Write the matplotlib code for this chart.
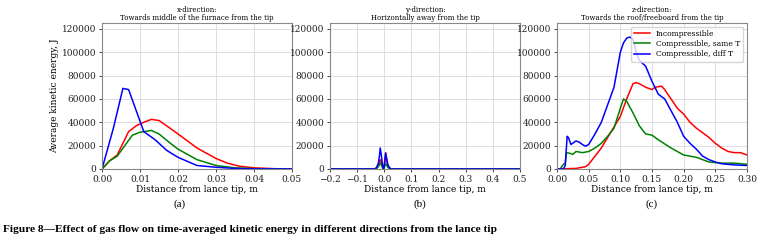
import numpy as np
import matplotlib
matplotlib.use("Agg")
import matplotlib.pyplot as plt

# panel (a): x-direction
xa_blue = [0, 0.003, 0.0055, 0.007, 0.009, 0.011, 0.014, 0.017, 0.020, 0.025, 0.030, 0.035, 0.040, 0.050]
ya_blue = [0, 35000, 69000, 68000, 50000, 32000, 25000, 16000, 10000, 3000, 1500, 500, 100, 0]
xa_red = [0, 0.002, 0.004, 0.007, 0.009, 0.011, 0.013, 0.015, 0.017, 0.020, 0.025, 0.030, 0.033, 0.036, 0.040, 0.045, 0.050]
ya_red = [0, 7000, 12000, 32000, 37000, 40000, 42500, 41500, 37000, 30000, 18000, 9000, 5000, 2500, 1000, 300, 0]
xa_green = [0, 0.002, 0.004, 0.006, 0.008, 0.010, 0.012, 0.013, 0.015, 0.018, 0.020, 0.025, 0.030, 0.035, 0.040, 0.050]
ya_green = [0, 7000, 11000, 20000, 29000, 31500, 32500, 33000, 30000, 22000, 17000, 8000, 3000, 1000, 300, 0]

# panel (b): y-direction
xb = [-0.2, -0.035, -0.028, -0.022, -0.018, -0.015, -0.011, -0.007, -0.004, -0.001, 0.002, 0.005, 0.009,
      0.013, 0.018, 0.025, 0.5]
yb_blue = [0, 0, 1500, 5000, 11000, 18000, 12000, 4000, 500, 1000, 8000, 13500, 9000, 4000, 1500, 0, 0]
yb_red = [0, 0, 800, 3000, 6000, 8000, 6000, 2000, 300, 800, 6000, 14000, 7000, 2500, 800, 0, 0]
yb_green = [0, 0, 500, 2000, 3500, 5000, 3500, 1500, 200, 500, 2500, 4500, 3000, 1500, 500, 0, 0]

# panel (c): z-direction
xc_blue = [0, 0.010, 0.013, 0.016, 0.018, 0.022, 0.030, 0.035, 0.040, 0.045, 0.050, 0.060, 0.070, 0.080, 0.090,
           0.100, 0.105, 0.110, 0.115, 0.120, 0.125, 0.130, 0.140, 0.150, 0.160, 0.170, 0.180, 0.190, 0.200,
           0.210, 0.220, 0.230, 0.240, 0.250, 0.260, 0.280, 0.300]
yc_blue = [0, 0, 3000, 28000, 27000, 21000, 24000, 23000, 21000, 19500, 21000, 30000, 40000, 55000, 70000,
           100000, 108000, 112000, 113000, 111000, 100000, 93000, 88000, 75000, 64000, 60000, 50000, 40000, 28000,
           22000, 17000, 11000, 8000, 6000, 4500, 3500, 3000]
xc_green = [0, 0.005, 0.010, 0.013, 0.015, 0.020, 0.025, 0.030, 0.040, 0.050, 0.060, 0.070, 0.080, 0.090,
            0.100, 0.105, 0.110, 0.120, 0.130, 0.140, 0.150, 0.160, 0.180, 0.200, 0.220, 0.240, 0.260, 0.280, 0.300]
yc_green = [0, 0, 4000, 5000, 14000, 13500, 12500, 15000, 14000, 15000, 18000, 22000, 28000, 35000,
            52000, 60000, 58000, 48000, 37000, 30000, 29000, 25000, 18000, 12000, 10000, 6000, 5000, 5000, 4000]
xc_red = [0, 0.030, 0.045, 0.050, 0.060, 0.070, 0.080, 0.090, 0.100, 0.110, 0.120, 0.125, 0.130, 0.140, 0.150,
          0.155, 0.165, 0.170, 0.180, 0.190, 0.200, 0.210, 0.220, 0.230, 0.240, 0.250, 0.260, 0.270, 0.280,
          0.290, 0.300]
yc_red = [0, 500, 2000, 4000, 11000, 18000, 27000, 36000, 45000, 60000, 73000, 74000, 73000, 70000, 68000,
          70000, 71000, 68000, 60000, 52000, 47000, 40000, 35000, 31000, 27000, 22000, 18000, 15000, 14000,
          14000, 12000]

labels = ["Incompressible", "Compressible, same T", "Compressible, diff T"]
titles = ["x-direction:\nTowards middle of the furnace from the tip",
          "y-direction:\nHorizontally away from the tip",
          "z-direction:\nTowards the roof/freeboard from the tip"]

plt.rcParams["font.family"] = "DejaVu Serif"

fig = plt.figure(figsize=(7.63, 2.4), dpi=100)
lefts = [102, 330, 557]
axes = [fig.add_axes([l / 763, 1 - 169 / 240, 190 / 763, 146 / 240]) for l in lefts]

data = [
    ((xa_red, ya_red), (xa_green, ya_green), (xa_blue, ya_blue)),
    ((xb, yb_red), (xb, yb_green), (xb, yb_blue)),
    ((xc_red, yc_red), (xc_green, yc_green), (xc_blue, yc_blue)),
]
xlims = [(0, 0.05), (-0.2, 0.5), (0, 0.3)]
xticks = [np.arange(0, 0.0501, 0.01), np.arange(-0.2, 0.501, 0.1), np.arange(0, 0.301, 0.05)]
xfmt = ["{:.2f}", "{:.1f}", "{:.2f}"]
colors = ["red", "green", "blue"]

for i, ax in enumerate(axes):
    for (xs, ys), c, lab in zip(data[i], colors, labels):
        ax.plot(xs, ys, color=c, lw=1.1, label=lab)
    ax.set_xlim(*xlims[i])
    ax.set_ylim(0, 125000)
    ax.set_xticks(xticks[i])
    ax.set_xticklabels([xfmt[i].format(v).replace("-", "\u2212") for v in xticks[i]])
    ax.set_yticks(np.arange(0, 120001, 20000))
    ax.tick_params(labelsize=6.5, length=2.5, width=0.6, pad=1.5, colors="#222222")
    ax.grid(True, color="#dddddd", lw=0.7)
    ax.set_axisbelow(True)
    for s in ax.spines.values():
        s.set_color("#888888")
        s.set_linewidth(0.8)
    ax.set_title(titles[i], fontsize=5, pad=2, linespacing=1.1)
    ax.set_xlabel("Distance from lance tip, m", fontsize=6.5, labelpad=1)

axes[0].set_ylabel("Average kinetic energy, J", fontsize=6.5, labelpad=2)
axes[2].legend(loc="upper right", fontsize=5.5, frameon=True, framealpha=0.8,
               borderpad=0.4, handlelength=2.0, labelspacing=0.3, edgecolor="#cccccc")

for x, t in zip([180, 420, 652], ["(a)", "(b)", "(c)"]):
    fig.text(x / 763, 1 - 204 / 240, t, ha="center", va="center", fontsize=8,
             family="Liberation Serif")

fig.text(3 / 763, 1 - 229 / 240,
         "Figure 8\u2014Effect of gas flow on time-averaged kinetic energy in different directions from the lance tip",
         ha="left", va="center", fontsize=8.2, fontweight="bold", family="Liberation Serif")

fig.savefig("out.png", dpi=100)
